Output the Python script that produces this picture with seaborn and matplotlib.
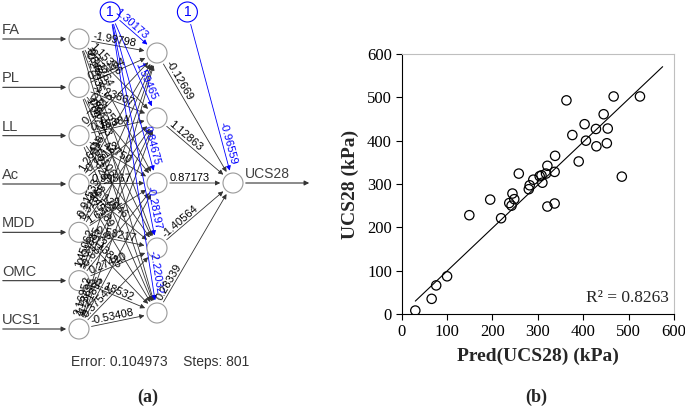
import numpy as np
import pandas as pd
import matplotlib.pyplot as plt
import seaborn as sns
from matplotlib.patches import Circle, FancyArrowPatch

# Estilo base
sns.set_theme(style="ticks")
plt.rcParams['font.family'] = ['Liberation Serif', 'DejaVu Serif']
SANS = ['Liberation Sans', 'DejaVu Sans']

# ---- (a) rede neural: nomes e pesos ----
entradas = ['FA', 'PL', 'LL', 'Ac', 'MDD', 'OMC', 'UCS1']
saida = 'UCS28'
pesos_ih = [
    [-1.99798, 1.15386, -0.52764, 0.84612, -0.27035],
    [0.35104, -1.23867, 0.61259, -0.90483, 1.04721],
    [0.72815, 0.16384, -1.42750, 0.58106, -0.33297],
    [1.26418, -0.73152, 0.99567, -0.12046, 0.45189],
    [-0.91533, 0.31865, 1.63652, -0.58217, 0.13885],
    [1.45062, -0.04885, -0.68139, 0.27410, -1.18532],
    [2.16952, 1.73695, -1.21895, 0.37542, -0.53408],
]
bias_h = [1.30173, 1.59465, 0.84675, -0.28197, -2.22032]
pesos_ho = [-0.12669, 1.12863, 0.87173, -1.40564, 0.28339]
bias_o = -0.96559
erro = 0.104973
passos = 801

# ---- (b) dispersão: previsto x medido ----
pred_ucs28 = [30, 66, 76, 100, 149, 195, 219, 237, 242, 244, 248, 258, 280,
              282, 290, 304, 308, 310, 318, 321, 321, 337, 338, 337, 363, 376,
              390, 403, 406, 428, 429, 445, 452, 454, 467, 485, 525]
ucs28 = [8, 35, 66, 87, 228, 264, 221, 256, 250, 278, 265, 324, 288,
         297, 310, 318, 320, 303, 324, 342, 248, 328, 365, 255, 493, 413,
         352, 438, 400, 427, 387, 461, 394, 428, 502, 317, 502]
r2_texto = 'R² = 0.8263'
ticks = [0, 100, 200, 300, 400, 500, 600]

df = pd.DataFrame({'pred': pred_ucs28, 'obs': ucs28})

W, H = 685, 408
fig = plt.figure(figsize=(W / 100, H / 100), dpi=100)

# ================= (a) =================
axn = fig.add_axes([0, 0, 342 / W, 1])
axn.set_xlim(0, 342)
axn.set_ylim(H, 0)
axn.axis('off')

r = 10
x_in, x_hid, x_out = 79, 157, 233
y_in = np.linspace(39, 329, len(entradas))
y_hid = np.linspace(53, 313, len(bias_h))
y_out = y_hid.mean()
b1 = np.array([x_in + 0.4 * (x_hid - x_in), 12])
b2 = np.array([x_hid + 0.4 * (x_out - x_hid), 12])
cinza = '#333333'
azul = '#0000FF'


def ligacao(p0, p1, peso, cor, perto_do_fim=False):
    p0, p1 = np.asarray(p0, float), np.asarray(p1, float)
    v = p1 - p0
    u = v / np.hypot(*v)
    seta = FancyArrowPatch(p0 + u * r, p1 - u * r, arrowstyle='-|>',
                           mutation_scale=7, lw=0.6, color=cor, zorder=2)
    axn.add_patch(seta)
    ang = np.degrees(np.arctan2(-v[1], v[0]))
    if perto_do_fim:
        pos, ha = p1 - u * (r + 8), 'right'
    else:
        pos, ha = p0 + u * (r + 3), 'left'
    axn.text(pos[0], pos[1], f'{peso:.5f}', rotation=ang,
             rotation_mode='anchor', ha=ha, va='bottom', fontsize=8,
             color='black' if cor == cinza else cor, family=SANS, zorder=4)


for i, yi in enumerate(y_in):
    for j, yj in enumerate(y_hid):
        ligacao((x_in, yi), (x_hid, yj), pesos_ih[i][j], cinza)
for j, yj in enumerate(y_hid):
    ligacao(b1, (x_hid, yj), bias_h[j], azul, perto_do_fim=True)
    ligacao((x_hid, yj), (x_out, y_out), pesos_ho[j], cinza)
ligacao(b2, (x_out, y_out), bias_o, azul, perto_do_fim=True)

# nós
for yi in y_in:
    axn.add_patch(Circle((x_in, yi), r, fc='white', ec='#999999', lw=0.8, zorder=3))
for yj in y_hid:
    axn.add_patch(Circle((x_hid, yj), r, fc='white', ec='#999999', lw=0.8, zorder=3))
axn.add_patch(Circle((x_out, y_out), r, fc='white', ec='#999999', lw=0.8, zorder=3))
for b in (b1, b2):
    axn.add_patch(Circle(b, r, fc='white', ec=azul, lw=0.8, zorder=3))
    axn.text(b[0], b[1] + 0.5, '1', ha='center', va='center', color=azul,
             fontsize=10, family=SANS, zorder=4)

# setas de entrada e saída
for nome, yi in zip(entradas, y_in):
    axn.add_patch(FancyArrowPatch((0, yi), (x_in - r, yi), arrowstyle='-|>',
                                  mutation_scale=7, lw=0.8, color=cinza))
    axn.text(2, yi - 2, nome, ha='left', va='bottom', fontsize=10.5,
             color='#404040', family=SANS)
axn.add_patch(FancyArrowPatch((x_out + r, y_out), (312, y_out), arrowstyle='-|>',
                              mutation_scale=7, lw=0.8, color=cinza))
axn.text(x_out + r + 2, y_out - 2, saida, ha='left', va='bottom', fontsize=10,
         color='#404040', family=SANS)

axn.text(160, 362, f'Error: {erro}    Steps: {passos}', ha='center', va='center',
         fontsize=10, color='#333333', family=SANS)
axn.text(148, 397, '(a)', ha='center', va='center', fontsize=13, fontweight='bold')

# ================= (b) =================
ax = fig.add_axes([401.7 / W, 1 - 314 / H, (674 - 401.7) / W, (314 - 54) / H])
sns.scatterplot(data=df, x='pred', y='obs', ax=ax, s=45, facecolor='none',
                edgecolor='black', linewidth=0.9, zorder=3)

# linha de tendência linear passando pela origem (como no Excel)
k = (df['pred'] * df['obs']).sum() / (df['pred'] ** 2).sum()
xs = np.array([df['pred'].min(), df['pred'].max() + 50])
sns.lineplot(x=xs, y=k * xs, ax=ax, color='black', lw=0.8)

ax.set_xlim(0, 600)
ax.set_ylim(0, 600)
ax.set_xticks(ticks)
ax.set_yticks(ticks)
ax.tick_params(axis='both', direction='out', length=4, width=0.8,
               labelsize=12, colors='black', pad=3)
for s in ('top', 'right'):
    ax.spines[s].set_color('#BFBFBF')
    ax.spines[s].set_linewidth(0.8)
for s in ('left', 'bottom'):
    ax.spines[s].set_color('black')
    ax.spines[s].set_linewidth(0.8)
ax.grid(False)
ax.set_xlabel('Pred(UCS28) (kPa)', fontsize=14, fontweight='bold', labelpad=6)
ax.set_ylabel('UCS28 (kPa)', fontsize=14, fontweight='bold', labelpad=6)
ax.text(0.982, 0.03, r2_texto, transform=ax.transAxes, ha='right', va='bottom',
        fontsize=12.5)

fig.text(536 / W, 1 - 397 / H, '(b)', ha='center', va='center', fontsize=13,
         fontweight='bold')

fig.savefig('out.png', dpi=100)
